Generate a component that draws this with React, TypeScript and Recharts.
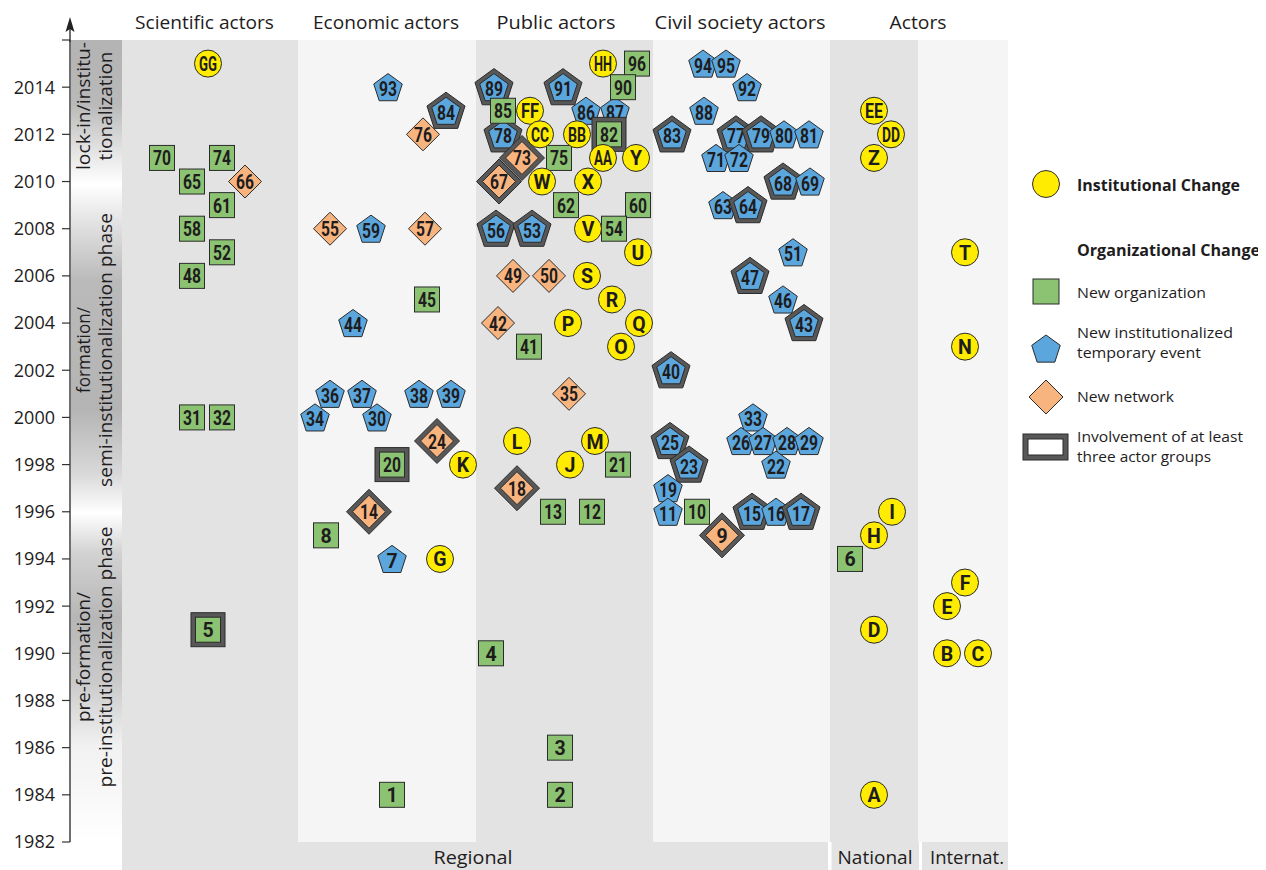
import React from 'react';
import { ScatterChart, Scatter, XAxis, YAxis, ReferenceArea } from 'recharts';

type Item = { id: string; x: number; year: number; multi?: boolean };

// x = position across the actor lanes (same units as the lane bounds below)
const institutionalChanges: Item[] = [
  { id: 'GG', x: 208, year: 2015 },
  { id: 'HH', x: 603, year: 2015 },
  { id: 'FF', x: 530, year: 2013 },
  { id: 'CC', x: 540, year: 2012 },
  { id: 'BB', x: 577, year: 2012 },
  { id: 'AA', x: 603, year: 2011 },
  { id: 'Y', x: 636, year: 2011 },
  { id: 'W', x: 542, year: 2010 },
  { id: 'X', x: 588, year: 2010 },
  { id: 'V', x: 588, year: 2008 },
  { id: 'U', x: 638, year: 2007 },
  { id: 'S', x: 587, year: 2006 },
  { id: 'R', x: 612, year: 2005 },
  { id: 'P', x: 568, year: 2004 },
  { id: 'Q', x: 639, year: 2004 },
  { id: 'O', x: 621, year: 2003 },
  { id: 'L', x: 517, year: 1999 },
  { id: 'M', x: 595, year: 1999 },
  { id: 'J', x: 570, year: 1998 },
  { id: 'K', x: 463, year: 1998 },
  { id: 'G', x: 440, year: 1994 },
  { id: 'EE', x: 874, year: 2013 },
  { id: 'DD', x: 891, year: 2012 },
  { id: 'Z', x: 874, year: 2011 },
  { id: 'I', x: 892, year: 1996 },
  { id: 'H', x: 874, year: 1995 },
  { id: 'D', x: 874, year: 1991 },
  { id: 'A', x: 874, year: 1984 },
  { id: 'T', x: 965, year: 2007 },
  { id: 'N', x: 965, year: 2003 },
  { id: 'F', x: 965, year: 1993 },
  { id: 'E', x: 947, year: 1992 },
  { id: 'B', x: 947, year: 1990 },
  { id: 'C', x: 978, year: 1990 },
];

const newOrganizations: Item[] = [
  { id: '70', x: 162, year: 2011 },
  { id: '74', x: 222, year: 2011 },
  { id: '65', x: 192, year: 2010 },
  { id: '61', x: 222, year: 2009 },
  { id: '58', x: 192, year: 2008 },
  { id: '52', x: 222, year: 2007 },
  { id: '48', x: 192, year: 2006 },
  { id: '31', x: 192, year: 2000 },
  { id: '32', x: 222, year: 2000 },
  { id: '5', x: 208, year: 1991, multi: true },
  { id: '45', x: 427, year: 2005 },
  { id: '20', x: 392, year: 1998, multi: true },
  { id: '8', x: 326, year: 1995 },
  { id: '1', x: 392, year: 1984 },
  { id: '96', x: 637, year: 2015 },
  { id: '90', x: 623, year: 2014 },
  { id: '85', x: 503, year: 2013 },
  { id: '82', x: 609, year: 2012, multi: true },
  { id: '75', x: 559, year: 2011 },
  { id: '62', x: 566, year: 2009 },
  { id: '60', x: 638, year: 2009 },
  { id: '54', x: 614, year: 2008 },
  { id: '41', x: 529, year: 2003 },
  { id: '21', x: 618, year: 1998 },
  { id: '13', x: 553, year: 1996 },
  { id: '12', x: 592, year: 1996 },
  { id: '4', x: 491, year: 1990 },
  { id: '3', x: 560, year: 1986 },
  { id: '2', x: 560, year: 1984 },
  { id: '10', x: 697, year: 1996 },
  { id: '6', x: 850, year: 1994 },
];

const newEvents: Item[] = [
  { id: '93', x: 388, year: 2014 },
  { id: '84', x: 446, year: 2013, multi: true },
  { id: '59', x: 371, year: 2008 },
  { id: '44', x: 353, year: 2004 },
  { id: '36', x: 330, year: 2001 },
  { id: '37', x: 362, year: 2001 },
  { id: '38', x: 419, year: 2001 },
  { id: '39', x: 451, year: 2001 },
  { id: '34', x: 315, year: 2000 },
  { id: '30', x: 377, year: 2000 },
  { id: '7', x: 392, year: 1994 },
  { id: '89', x: 494, year: 2014, multi: true },
  { id: '91', x: 563, year: 2014, multi: true },
  { id: '86', x: 586, year: 2013 },
  { id: '87', x: 615, year: 2013 },
  { id: '78', x: 503, year: 2012, multi: true },
  { id: '56', x: 496, year: 2008, multi: true },
  { id: '53', x: 532, year: 2008, multi: true },
  { id: '94', x: 703, year: 2015 },
  { id: '95', x: 726, year: 2015 },
  { id: '92', x: 747, year: 2014 },
  { id: '88', x: 704, year: 2013 },
  { id: '83', x: 672, year: 2012, multi: true },
  { id: '77', x: 736, year: 2012, multi: true },
  { id: '79', x: 761, year: 2012, multi: true },
  { id: '80', x: 784, year: 2012 },
  { id: '81', x: 809, year: 2012 },
  { id: '71', x: 716, year: 2011 },
  { id: '72', x: 739, year: 2011 },
  { id: '68', x: 783, year: 2010, multi: true },
  { id: '69', x: 810, year: 2010 },
  { id: '63', x: 723, year: 2009 },
  { id: '64', x: 748, year: 2009, multi: true },
  { id: '51', x: 793, year: 2007 },
  { id: '47', x: 750, year: 2006, multi: true },
  { id: '46', x: 783, year: 2005 },
  { id: '43', x: 804, year: 2004, multi: true },
  { id: '40', x: 671, year: 2002, multi: true },
  { id: '33', x: 753, year: 2000 },
  { id: '26', x: 741, year: 1999 },
  { id: '27', x: 763, year: 1999 },
  { id: '28', x: 787, year: 1999 },
  { id: '29', x: 809, year: 1999 },
  { id: '22', x: 776, year: 1998 },
  { id: '25', x: 670, year: 1999, multi: true },
  { id: '23', x: 689, year: 1998, multi: true },
  { id: '19', x: 668, year: 1997 },
  { id: '11', x: 668, year: 1996 },
  { id: '15', x: 752, year: 1996, multi: true },
  { id: '16', x: 776, year: 1996 },
  { id: '17', x: 801, year: 1996, multi: true },
];

const newNetworks: Item[] = [
  { id: '66', x: 245, year: 2010 },
  { id: '76', x: 423, year: 2012 },
  { id: '55', x: 330, year: 2008 },
  { id: '57', x: 425, year: 2008 },
  { id: '24', x: 437, year: 1999, multi: true },
  { id: '14', x: 369, year: 1996, multi: true },
  { id: '67', x: 499, year: 2010, multi: true },
  { id: '73', x: 522, year: 2011, multi: true },
  { id: '49', x: 513, year: 2006 },
  { id: '50', x: 549, year: 2006 },
  { id: '42', x: 498, year: 2004 },
  { id: '35', x: 569, year: 2001 },
  { id: '18', x: 517, year: 1997, multi: true },
  { id: '9', x: 722, year: 1995, multi: true },
];

const yearTicks = [1982, 1984, 1986, 1988, 1990, 1992, 1994, 1996, 1998, 2000, 2002, 2004, 2006, 2008, 2010, 2012, 2014, 2016];

const GRAY = '#e3e3e3';
const LIGHT = '#f5f5f5';
const YELLOW = '#ffec00';
const GREEN = '#8cc372';
const BLUE = '#5aa6dd';
const ORANGE = '#f8b47f';
const RIM = '#585858';
const EDGE = '#2b2b2b';
const INK = '#1e1c1d';
const FONT = '"Open Sans", "Noto Sans", sans-serif';

const lanes = [
  { x1: 122, x2: 298, fill: GRAY },
  { x1: 298, x2: 476, fill: LIGHT },
  { x1: 476, x2: 653, fill: GRAY },
  { x1: 653, x2: 830, fill: LIGHT },
  { x1: 830, x2: 918, fill: GRAY },
  { x1: 918, x2: 1008, fill: LIGHT },
];

const MarkLabel = ({ cx, cy, text }: { cx: number; cy: number; text: string }) => (
  <text
    x={cx}
    y={cy + 1}
    textAnchor="middle"
    dominantBaseline="central"
    fontFamily="Roboto, sans-serif"
    fontWeight={700}
    fontSize={19.5}
    fill={INK}
    {...(text.length > 1 ? { textLength: 18, lengthAdjust: 'spacingAndGlyphs' } : {})}
  >
    {text}
  </text>
);

const pentagonPoints = (cx: number, c: number, R: number) =>
  Array.from({ length: 5 }, (_, k) => {
    const a = ((-90 + 72 * k) * Math.PI) / 180;
    return `${cx + R * Math.cos(a)},${c + R * Math.sin(a)}`;
  }).join(' ');

const diamondPoints = (cx: number, cy: number, h: number) =>
  `${cx},${cy - h} ${cx + h},${cy} ${cx},${cy + h} ${cx - h},${cy}`;

const circleShape = (p: any) => (
  <g>
    <circle cx={p.cx} cy={p.cy} r={13.5} fill={YELLOW} stroke={EDGE} strokeWidth={1} />
    <MarkLabel cx={p.cx} cy={p.cy} text={p.payload.id} />
  </g>
);

const squareShape = (p: any) => {
  const h = 12.5;
  return (
    <g>
      {p.payload.multi && (
        <rect x={p.cx - h - 4.5} y={p.cy - h - 4.5} width={2 * h + 9} height={2 * h + 9} fill={RIM} stroke={EDGE} strokeWidth={1} />
      )}
      <rect x={p.cx - h} y={p.cy - h} width={2 * h} height={2 * h} fill={GREEN} stroke={EDGE} strokeWidth={1} />
      <MarkLabel cx={p.cx} cy={p.cy} text={p.payload.id} />
    </g>
  );
};

const pentagonShape = (p: any) => {
  const R = 15;
  const c = p.cy + 0.0955 * R;
  return (
    <g>
      {p.payload.multi && (
        <polygon points={pentagonPoints(p.cx, c, R + 5)} fill={RIM} stroke={EDGE} strokeWidth={1} />
      )}
      <polygon points={pentagonPoints(p.cx, c, R)} fill={BLUE} stroke={EDGE} strokeWidth={1} />
      <MarkLabel cx={p.cx} cy={p.cy + 1.5} text={p.payload.id} />
    </g>
  );
};

const diamondShape = (p: any) => (
  <g>
    {p.payload.multi && <polygon points={diamondPoints(p.cx, p.cy, 22.5)} fill={RIM} stroke={EDGE} strokeWidth={1} />}
    <polygon points={diamondPoints(p.cx, p.cy, 16.5)} fill={ORANGE} stroke={EDGE} strokeWidth={1} />
    <MarkLabel cx={p.cx} cy={p.cy} text={p.payload.id} />
  </g>
);

const headers = [
  { text: 'Scientific actors', x: 204.5, w: 139 },
  { text: 'Economic actors', x: 386, w: 146 },
  { text: 'Public actors', x: 556, w: 119 },
  { text: 'Civil society actors', x: 740, w: 171 },
  { text: 'Actors', x: 918, w: 57 },
];

const scopes = [
  { text: 'Regional', x1: 122, x2: 828, cx: 473, w: 79 },
  { text: 'National', x1: 831.5, x2: 919, cx: 875, w: 75 },
  { text: 'Internat.', x1: 922, x2: 1008, cx: 967, w: 74 },
];

const phases = [
  { lines: [['lock-in/institu-', 128], ['tionalization', 109]], cy: 106 },
  { lines: [['formation/', 86], ['semi-institutionalization phase', 274]], cy: 350 },
  { lines: [['pre-formation/', 130], ['pre-institutionalization phase', 261]], cy: 657 },
];

const Overlay = () => (
  <svg width={1258} height={862} style={{ position: 'absolute', left: 0, top: 0, pointerEvents: 'none' }}>
    <defs>
      <linearGradient id="phaseFade" x1="0" y1="0" x2="0" y2="1">
        <stop offset="0" stopColor="#b3b3b3" />
        <stop offset="0.08" stopColor="#b9b9b9" />
        <stop offset="0.145" stopColor="#e8e8e8" />
        <stop offset="0.18" stopColor="#ffffff" />
        <stop offset="0.225" stopColor="#e4e4e4" />
        <stop offset="0.3" stopColor="#bababa" />
        <stop offset="0.46" stopColor="#b4b4b4" />
        <stop offset="0.54" stopColor="#d8d8d8" />
        <stop offset="0.59" stopColor="#ffffff" />
        <stop offset="0.64" stopColor="#d2d2d2" />
        <stop offset="0.72" stopColor="#b6b6b6" />
        <stop offset="0.8" stopColor="#cacaca" />
        <stop offset="0.88" stopColor="#f1f1f1" />
        <stop offset="1" stopColor="#ffffff" />
      </linearGradient>
    </defs>
    <g transform="translate(-8,-8)" fontFamily={FONT} fill={INK}>
      {/* axis arrow */}
      <line x1={70} y1={42} x2={70} y2={26} stroke="#333" strokeWidth={1.4} />
      <path d="M70,17 L74.5,32 L70,29 L65.5,32 Z" fill="#222" />

      {headers.map((h) => (
        <text key={h.text} x={h.x} y={29} textAnchor="middle" fontSize={19} textLength={h.w} lengthAdjust="spacingAndGlyphs">
          {h.text}
        </text>
      ))}

      {scopes.map((s) => (
        <g key={s.text}>
          <rect x={s.x1} y={842} width={s.x2 - s.x1} height={28} fill={GRAY} />
          <text x={s.cx} y={864} textAnchor="middle" fontSize={18} textLength={s.w} lengthAdjust="spacingAndGlyphs">
            {s.text}
          </text>
        </g>
      ))}

      {phases.map((ph, i) =>
        ph.lines.map(([t, w], j) => (
          <text
            key={`${i}-${j}`}
            transform={`translate(${j === 0 ? 90 : 111.5},${ph.cy}) rotate(-90)`}
            textAnchor="middle"
            fontSize={19}
            textLength={w as number}
            lengthAdjust="spacingAndGlyphs"
          >
            {t}
          </text>
        ))
      )}

      {/* legend */}
      <circle cx={1046} cy={184} r={13.5} fill={YELLOW} stroke={EDGE} strokeWidth={1} />
      <text x={1077} y={191} fontSize={15.5} fontWeight={700} textLength={163} lengthAdjust="spacingAndGlyphs">
        Institutional Change
      </text>
      <text x={1077} y={256} fontSize={15.5} fontWeight={700} textLength={183} lengthAdjust="spacingAndGlyphs">
        Organizational Change
      </text>
      <rect x={1033} y={279} width={26} height={25} fill={GREEN} stroke={EDGE} strokeWidth={1} />
      <text x={1077} y={298} fontSize={15} textLength={129} lengthAdjust="spacingAndGlyphs">
        New organization
      </text>
      <polygon points={pentagonPoints(1046, 350, 15)} fill={BLUE} stroke={EDGE} strokeWidth={1} />
      <text x={1077} y={338} fontSize={15} textLength={156} lengthAdjust="spacingAndGlyphs">
        New institutionalized
      </text>
      <text x={1077} y={358} fontSize={15} textLength={124} lengthAdjust="spacingAndGlyphs">
        temporary event
      </text>
      <polygon points={diamondPoints(1046, 397, 17)} fill={ORANGE} stroke={EDGE} strokeWidth={1} />
      <text x={1077} y={402} fontSize={15} textLength={97} lengthAdjust="spacingAndGlyphs">
        New network
      </text>
      <rect x={1023} y={434} width={45} height={26} fill={RIM} stroke={EDGE} strokeWidth={1} />
      <rect x={1028} y={439} width={35} height={16} fill="#ffffff" stroke={EDGE} strokeWidth={1} />
      <text x={1077} y={442} fontSize={15} textLength={166} lengthAdjust="spacingAndGlyphs">
        Involvement of at least
      </text>
      <text x={1077} y={462} fontSize={15} textLength={134} lengthAdjust="spacingAndGlyphs">
        three actor groups
      </text>
    </g>
  </svg>
);

export default function App() {
  return (
    <div style={{ position: 'relative', width: 1258, height: 862 }}>
      <ScatterChart width={1258} height={862} margin={{ top: 32, right: 258, bottom: 28, left: 0 }}>
        <ReferenceArea x1={71} x2={122} y1={1982} y2={2016} fill="url(#phaseFade)" fillOpacity={1} stroke="none" />
        {lanes.map((l) => (
          <ReferenceArea key={l.x1} x1={l.x1} x2={l.x2} y1={1982} y2={2016} fill={l.fill} fillOpacity={1} stroke="none" />
        ))}
        <XAxis type="number" dataKey="x" domain={[70, 1008]} hide />
        <YAxis
          type="number"
          dataKey="year"
          domain={[1982, 2016]}
          ticks={yearTicks}
          interval={0}
          width={62}
          tickSize={8}
          tickMargin={7}
          tickFormatter={(v: number) => (v === 2016 ? '' : String(v))}
          axisLine={{ stroke: '#333', strokeWidth: 1.4 }}
          tickLine={{ stroke: '#333', strokeWidth: 1.2 }}
          tick={{ fill: INK, fontSize: 18, fontFamily: FONT }}
        />
        <Scatter data={newEvents} shape={pentagonShape} isAnimationActive={false} />
        <Scatter data={newOrganizations} shape={squareShape} isAnimationActive={false} />
        <Scatter data={newNetworks} shape={diamondShape} isAnimationActive={false} />
        <Scatter data={institutionalChanges} shape={circleShape} isAnimationActive={false} />
      </ScatterChart>
      <Overlay />
    </div>
  );
}
